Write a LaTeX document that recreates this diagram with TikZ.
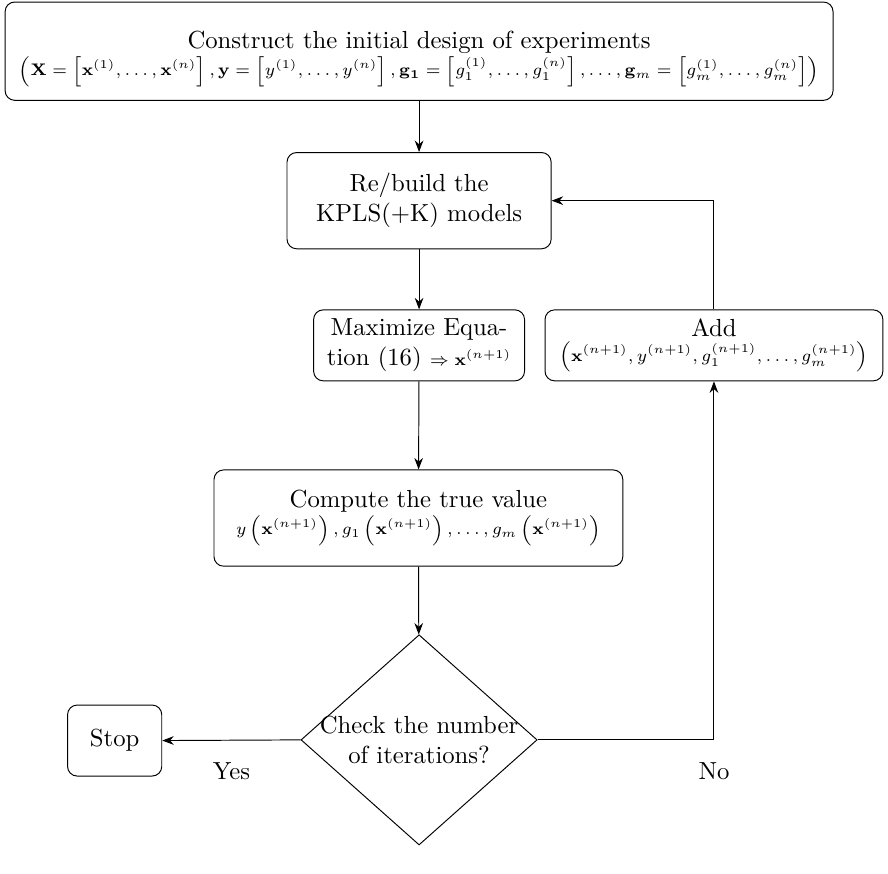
\documentclass[tikz,border=0pt]{standalone}
\usepackage{amsmath, amssymb}
\usetikzlibrary{arrows.meta, positioning, shapes.geometric}

\tikzset{
  every node/.style={font=\fontsize{10.3}{12.4}\selectfont},
  blockbox/.style={draw, rounded corners, align=center, inner sep=2pt},
  checkbox/.style={draw, diamond, shape aspect=1.124, inner sep=-12pt, align=center},
  flowarrow/.style={-{Stealth}}
}

\begin{document}
\begin{tikzpicture}
    \useasboundingbox (0,0) rectangle (13.01,-12.80);
    \node[blockbox, minimum width=12.13cm, minimum height=1.44cm, text depth=4pt] (init) at (6.14,-0.75)
      {\rule{0pt}{13pt}Construct the initial design of experiments\\[-1pt]
       {\scriptsize $\left(\mathbf{X} = \left[\mathbf{x}^{(1)},\dots,\mathbf{x}^{(n)}\right], \mathbf{y} = \left[y^{(1)},\dots,y^{(n)}\right], \mathbf{g_1} = \left[g_1^{(1)},\dots,g_1^{(n)}\right], \dots, \mathbf{g}_m = \left[g_m^{(1)},\dots,g_m^{(n)}\right]\right)$}};
    \node[blockbox, minimum width=3.87cm, minimum height=1.41cm] (rebuild) at (6.14,-2.94)
      {Re/build the\\KPLS(+K) models};
    \node[blockbox, minimum width=3.09cm, minimum height=1.04cm] (maxim) at (6.14,-5.06)
      {Maximize Equa-\\tion (16) {\scriptsize $\Rightarrow \mathbf{x}^{(n+1)}$}};
    \node[blockbox, minimum width=4.95cm, minimum height=1.04cm] (add) at (10.46,-5.06)
      {Add\\[-2pt]{\scriptsize $\left(\mathbf{x}^{(n+1)}, y^{(n+1)}, g_1^{(n+1)}, \dots, g_m^{(n+1)}\right)$}};
    \node[blockbox, minimum width=5.99cm, minimum height=1.41cm] (truevalue) at (6.13,-7.59)
      {Compute the true value\\[-1pt]{\scriptsize $y\left(\mathbf{x}^{(n+1)}\right), g_1\left(\mathbf{x}^{(n+1)}\right), \dots, g_m\left(\mathbf{x}^{(n+1)}\right)$}};
    \node[checkbox, minimum width=3.46cm, minimum height=3.08cm] (check) at (6.14,-10.84)
      {Check the number\\of iterations?};
    \node[blockbox, minimum width=1.38cm, minimum height=1.04cm] (stop) at (1.68,-10.85) {Stop};
    \draw[flowarrow] (init) -- (rebuild);
    \draw[flowarrow] (rebuild) -- (maxim);
    \draw[flowarrow] (maxim) -- (truevalue);
    \draw[flowarrow] (truevalue) -- (check);
    \draw[flowarrow] (check.west) -- node[below=6pt] {Yes} (stop.east);
    \draw[flowarrow] (check.east) -| node[below=6pt, pos=0.5] {No} (add.south);
    \draw[flowarrow] (add.north) |- (rebuild.east);
\end{tikzpicture}
\end{document}
